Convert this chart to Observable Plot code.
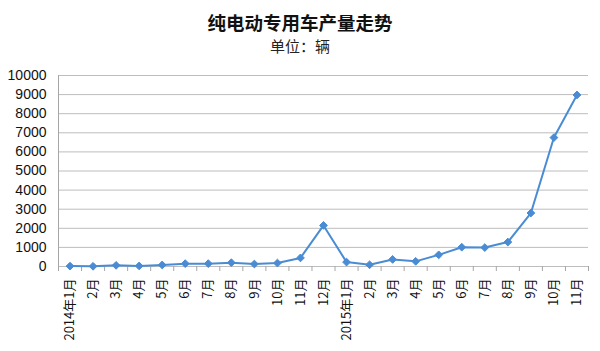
<!DOCTYPE html>
<html><head><meta charset="utf-8">
<script src="https://cdn.jsdelivr.net/npm/d3@7"></script>
<script src="https://cdn.jsdelivr.net/npm/@observablehq/plot@0.6"></script>
<style>
body{margin:0;background:#fff;width:600px;height:351px;overflow:hidden;font-family:"Noto Sans CJK SC",sans-serif;}
#t{padding-top:10px;height:24px;line-height:24px;text-align:center;font-size:18.5px;font-weight:bold;color:#111;}
#s{margin-top:2px;height:20px;line-height:20px;text-align:center;font-size:15px;color:#222;}
</style></head><body>
<div id="t">纯电动专用车产量走势</div>
<div id="s">单位：辆</div>
<div id="c"></div>
<script>
const months = ["2014年1月","2月","3月","4月","5月","6月","7月","8月","9月","10月","11月","12月",
  "2015年1月","2月","3月","4月","5月","6月","7月","8月","9月","10月","11月"];
const output = [20,10,60,30,80,150,150,200,130,180,450,2150,
  230,90,370,270,610,1010,990,1280,2800,6750,8980];
const yTicks = [0,1000,2000,3000,4000,5000,6000,7000,8000,9000,10000];

const data = months.map((m,i)=>({i, m, v: output[i]}));
const idx = months.map((_,i)=>i);
const bounds = d3.range(months.length+1).map(i=>i-0.5);
const col = "#4a8cd3";

const chart = Plot.plot({
  width: 600, height: 295,
  marginLeft: 58, marginRight: 12, marginTop: 19, marginBottom: 85,
  style: {fontFamily: "'Liberation Sans', Arial, sans-serif", background: "#fff", color: "#111"},
  x: {type: "linear", domain: [-0.5, months.length-0.5], axis: null},
  y: {domain: [0,10000], axis: null},
  marks: [
    Plot.gridY(yTicks, {stroke: "#bdbdbd", strokeOpacity: 1, strokeWidth: 1}),
    Plot.axisY(yTicks, {tickSize: 0, tickPadding: 12, fontSize: 14, label: null, tickFormat: d => String(d)}),
    Plot.ruleX([-0.5], {stroke: "#a6a6a6"}),
    Plot.axisX(bounds, {tickSize: 5, label: null, tickFormat: () => "", stroke: "#a6a6a6"}),
    Plot.axisX(idx, {tickSize: 0, tickPadding: 12, tickRotate: -90, fontSize: 13, label: null,
      fontFamily: "'Noto Sans CJK SC', sans-serif", tickFormat: i => months[i]}),
    Plot.line(data, {x: "i", y: "v", stroke: col, strokeWidth: 2}),
    Plot.dot(data, {x: "i", y: "v", symbol: "diamond2", r: 3.5, fill: col, stroke: col, strokeWidth: 1})
  ]
});
document.getElementById("c").appendChild(chart);
</script>
</body></html>
